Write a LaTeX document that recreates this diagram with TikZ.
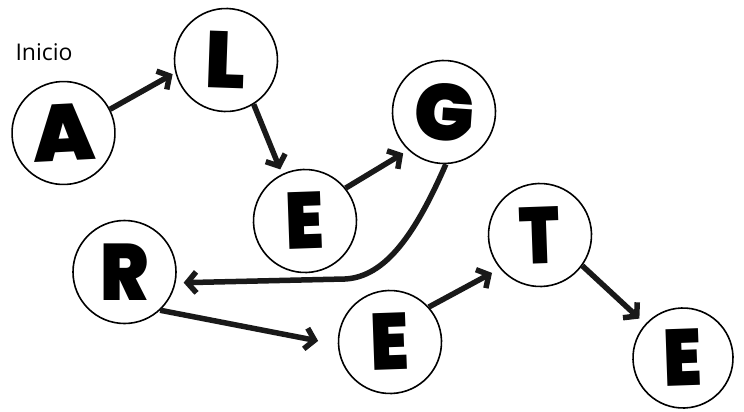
\documentclass[tikz,border=0pt]{standalone}
\usepackage{fontspec}
\usetikzlibrary{arrows.meta}
\IfFontExistsTF{Poppins Black}{\newfontfamily\blk{Poppins Black}}{\newfontfamily\blk{Poppins}[UprightFont=* Bold]}
\newfontfamily\lbl{Open Sans}
\newcommand{\narrow}[1]{\scalebox{0.86}[1]{#1}}
\begin{document}
\begin{tikzpicture}[x=1pt,y=-1pt,
  circ/.style={draw=black,line width=1.6pt,circle,minimum size=103pt,inner sep=0pt,
    font=\blk\fontsize{80}{80}\selectfont},
  arr/.style={draw=black!90,line width=5.5pt,-{Straight Barb[length=9pt,width=21pt]}}]
\useasboundingbox (0,0) rectangle (744,412);
\node[anchor=base west,font=\lbl\fontsize{23}{23}\selectfont] (inicio) at (12,61) {Inicio};
\node[circ,rotate=3] (a) at (63.5,133) {A};
\node[circ,rotate=-2] (l) at (226,60) {L};
\node[circ,rotate=2] (e1) at (305,221) {\narrow{E}};
\node[circ,rotate=-4] (g) at (444,112) {G};
\node[circ] (r) at (124.5,272) {\scalebox{0.9}[1]{R}};
\node[circ,rotate=2] (e2) at (390,342) {\narrow{E}};
\node[circ,rotate=2] (t) at (540,235) {\scalebox{0.82}[1]{T}};
\node[circ,rotate=2,minimum size=100pt] (e3) at (683,358) {\narrow{E}};
\draw[arr,shorten >=3pt] (a.24) -- (l.196);
\draw[arr,shorten >=5pt] (l.-56) -- (e1.114);
\draw[arr,shorten >=6pt] (e1.37) -- (g.231);
\coordinate (bend) at (345,279);
\draw[arr,shorten >=8pt] (g.-84) .. controls (415,235) and (385,277) .. (bend) -- (r.-12);
\draw[arr,shorten >=20pt] (r.-47) -- (e2.181);
\draw[arr,shorten >=9pt] (e2.40) -- (t.218);
\draw[arr,shorten >=8pt] (t.-38) -- (e3.136);
\end{tikzpicture}
\end{document}
